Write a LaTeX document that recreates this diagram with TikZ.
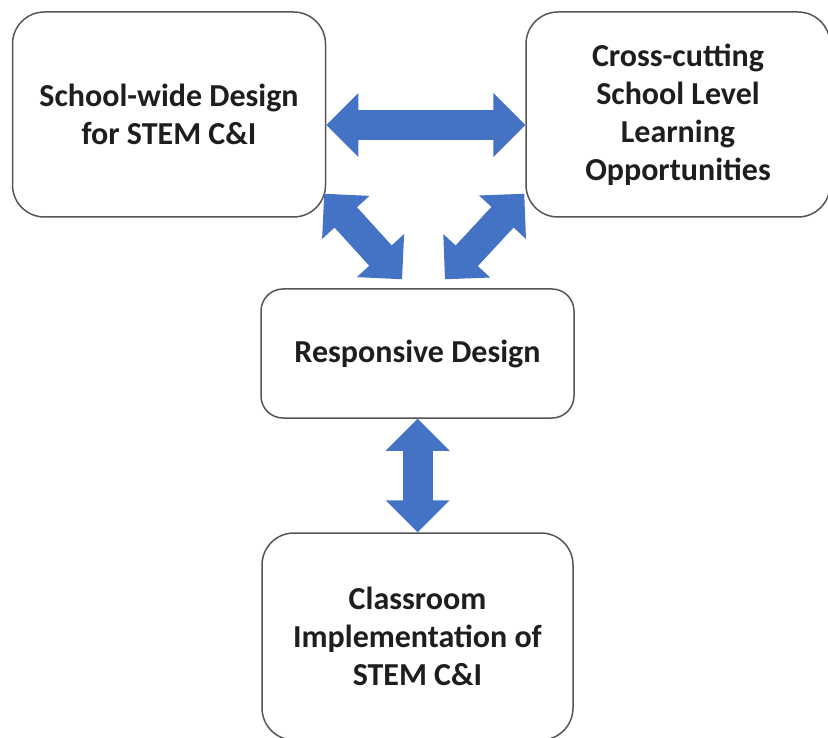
\documentclass[tikz,border=0pt]{standalone}
\usepackage{fontspec}
\setmainfont{Carlito}
\usetikzlibrary{arrows.meta}
\definecolor{arrowblue}{HTML}{4472C4}
\definecolor{boxline}{HTML}{555555}
\definecolor{textdark}{HTML}{1E1E1E}
\begin{document}
\begin{tikzpicture}[x=1pt,y=-1pt,
  box/.style={draw=boxline, line width=1.5pt, fill=white, rounded corners=32pt,
    align=center, text=textdark, font=\fontsize{32}{38}\selectfont\bfseries, inner sep=0pt},
  fattip/.tip={Triangle[length=32pt,width=64pt,line width=0pt]},
  fat/.style={draw=arrowblue, line width=30pt, fattip-fattip},
  fatshaft/.style={draw=arrowblue, line width=30pt, shorten >=30pt, shorten <=30pt}]
\useasboundingbox (0,0) rectangle (828,738);
\node[box, minimum width=313pt, minimum height=205pt] (A) at (169,114.5) {School-wide Design\\for STEM C\&I};
\node[box, minimum width=304pt, minimum height=205pt] (B) at (678,114.5) {Cross-cutting\\School Level\\Learning\\Opportunities};
\node[box, rounded corners=22pt, minimum width=313pt, minimum height=129pt] (C) at (417.5,353.5) {Responsive Design};
\node[box, minimum width=311pt, minimum height=207pt] (D) at (417.5,636.5) {Classroom\\Implementation of\\STEM C\&I};
\coordinate (h1) at ([yshift=-10.5pt]A.east);
\coordinate (h2) at ([yshift=-10.5pt]B.west);
\coordinate (l1) at ([shift={(-2,-24)}]A.south east);
\coordinate (l2) at ([shift={(-15.5,-9)}]C.north);
\coordinate (r1) at ([shift={(-1,-24)}]B.south west);
\coordinate (r2) at ([shift={(27.5,-9)}]C.north);
\draw[fat] (h1) -- (h2);
\draw[fatshaft] (h1) -- (h2);
\draw[fat] (l1) -- (l2);
\draw[fatshaft] (l1) -- (l2);
\draw[fat] (r1) -- (r2);
\draw[fatshaft] (r1) -- (r2);
\draw[fat] (C.south) -- (D.north);
\draw[fatshaft] (C.south) -- (D.north);
\end{tikzpicture}
\end{document}
